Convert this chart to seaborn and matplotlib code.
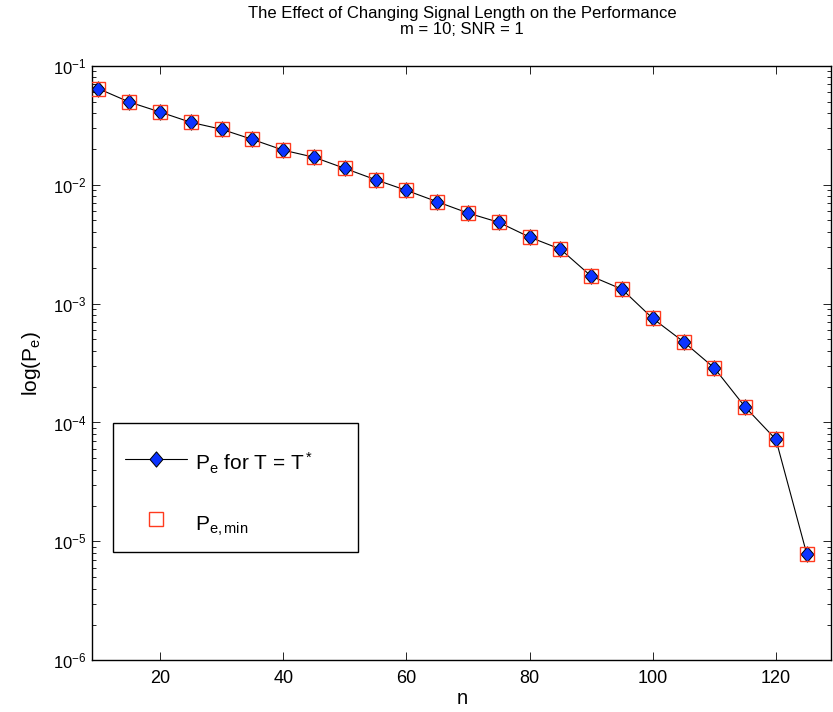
import matplotlib
matplotlib.use("Agg")
import numpy as np
import pandas as pd
import seaborn as sns
import matplotlib.pyplot as plt
from matplotlib.path import Path
from matplotlib.lines import Line2D
from matplotlib.patches import Rectangle
from matplotlib.ticker import LogLocator, NullFormatter, FixedLocator

# ---- data ----
n_values = [10, 15, 20, 25, 30, 35, 40, 45, 50, 55, 60, 65, 70, 75, 80, 85,
            90, 95, 100, 105, 110, 115, 120, 125]
pe_tstar = [0.0641, 0.0495, 0.0408, 0.0334, 0.0292, 0.0240, 0.0195, 0.0170,
            0.0137, 0.0110, 0.00895, 0.00718, 0.00577, 0.00482, 0.00362,
            0.00287, 0.00170, 0.00132, 0.000750, 0.000477, 0.000287,
            0.000135, 7.2e-5, 7.87e-6]
pe_min = [0.0641, 0.0495, 0.0408, 0.0334, 0.0292, 0.0240, 0.0195, 0.0170,
          0.0137, 0.0110, 0.00895, 0.00718, 0.00577, 0.00482, 0.00362,
          0.00287, 0.00170, 0.00132, 0.000750, 0.000477, 0.000287,
          0.000135, 7.2e-5, 7.87e-6]
x_ticks = [20, 40, 60, 80, 100, 120]

title_text = "The Effect of Changing Signal Length on the Performance\nm = 10; SNR = 1"
label_tstar = "P$_e$ for T = T$^*$"
label_min = "P$_{e,min}$"

BLUE = "#0b33ff"
RED = "#ff3a1e"

sns.set_theme(style="ticks")
plt.rcParams.update({
    "font.family": ["Liberation Sans", "DejaVu Sans"],
    "mathtext.fontset": "custom",
    "mathtext.rm": "Liberation Sans",
    "mathtext.it": "Liberation Sans",
    "mathtext.sf": "Liberation Sans",
    "mathtext.bf": "Liberation Sans:bold",
    "axes.edgecolor": "black",
    "axes.linewidth": 1.0,
    "text.color": "black",
    "axes.labelcolor": "black",
    "xtick.color": "black",
    "ytick.color": "black",
})

fig = plt.figure(figsize=(8.33, 7.12), dpi=100)
fig.patch.set_facecolor("white")
ax = fig.add_axes([0.1108, 0.0726, 0.8872, 0.8351])
ax.set_facecolor("white")
ax.set_yscale("log")

df_t = pd.DataFrame({"n": n_values, "pe": pe_tstar})
df_m = pd.DataFrame({"n": n_values, "pe": pe_min})

diamond = Path([(0, 1), (0.85, 0), (0, -1), (-0.85, 0), (0, 1)],
               [Path.MOVETO, Path.LINETO, Path.LINETO, Path.LINETO, Path.CLOSEPOLY])

sns.lineplot(data=df_t, x="n", y="pe", ax=ax, color="black", linewidth=0.8,
             marker=diamond, markersize=11, markerfacecolor=BLUE,
             markeredgecolor="black", markeredgewidth=0.7,
             errorbar=None, sort=False, zorder=2)
sns.lineplot(data=df_m, x="n", y="pe", ax=ax, color=RED, linestyle="none",
             marker="s", markersize=10.3, markerfacecolor="none",
             markeredgecolor=RED, markeredgewidth=1.0,
             errorbar=None, sort=False, zorder=3)

ax.set_xlim(9, 129)
ax.set_ylim(1e-6, 1e-1)
ax.xaxis.set_major_locator(FixedLocator(x_ticks))
ax.yaxis.set_major_locator(LogLocator(base=10, numticks=10))
ax.yaxis.set_minor_locator(LogLocator(base=10, subs=np.arange(2, 10), numticks=20))
ax.yaxis.set_minor_formatter(NullFormatter())

ax.tick_params(which="both", direction="in", top=True, right=True, width=0.6)
ax.tick_params(which="major", length=5.5)
ax.tick_params(which="minor", length=3.2)
ax.tick_params(axis="x", which="major", pad=7, labelsize=13)
ax.tick_params(axis="y", which="major", pad=4, labelsize=12)
for s in ax.spines.values():
    s.set_visible(True)
    s.set_linewidth(1.0)
    s.set_color("black")

ax.set_title(title_text, fontsize=12, pad=23, linespacing=1.1)
ax.set_xlabel("n", fontsize=14.5, labelpad=1.5)
ax.set_ylabel("log(P$_e$)", fontsize=15, labelpad=7)

# legend frame drawn as a patch, legend entries placed inside it
frame = Rectangle((0.0276, 0.1816), 0.3324, 0.217, transform=ax.transAxes,
                  facecolor="white", edgecolor="black", linewidth=1.0, zorder=4)
ax.add_patch(frame)

h1 = Line2D([], [], color="black", linewidth=0.8, marker=diamond, markersize=11,
            markerfacecolor=BLUE, markeredgecolor="black", markeredgewidth=0.7)
h2 = Line2D([], [], color=RED, linestyle="none", marker="s", markersize=10.3,
            markerfacecolor="none", markeredgecolor=RED, markeredgewidth=1.0)
leg = ax.legend([h1, h2], [label_tstar, label_min], loc="upper left",
                bbox_to_anchor=(0.0442, 0.3577), bbox_transform=ax.transAxes,
                fontsize=15, frameon=False, borderpad=0, borderaxespad=0,
                handlelength=3.0, handleheight=2.1, handletextpad=0.35,
                labelspacing=1.27, numpoints=1)
leg.set_zorder(5)

fig.savefig("out.png", dpi=100, facecolor="white")
